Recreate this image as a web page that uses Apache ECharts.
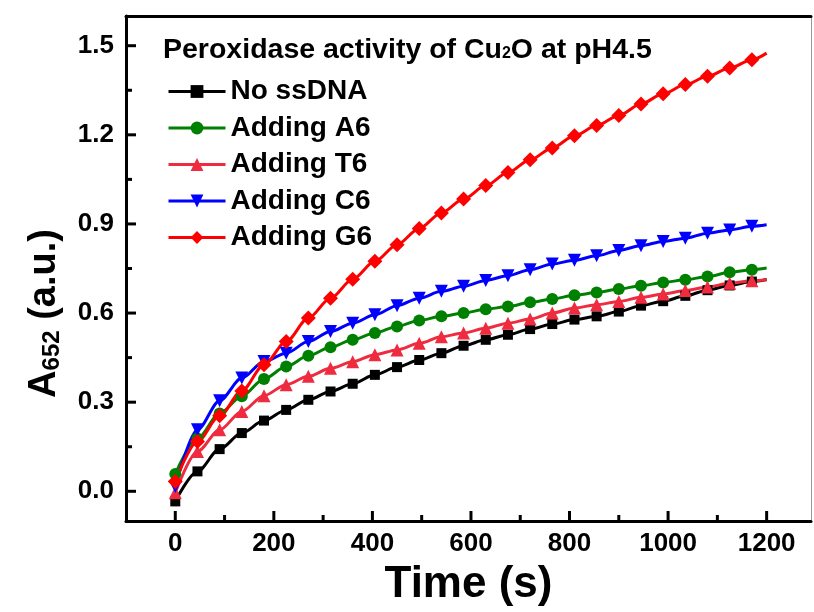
<!DOCTYPE html>
<html>
<head>
<meta charset="utf-8">
<script src="https://cdn.jsdelivr.net/npm/echarts@6/dist/echarts.min.js"></script>
<style>
  html, body { margin: 0; padding: 0; background: #fff; }
  #chart { width: 814px; height: 612px; }
</style>
</head>
<body>
<div id="chart"></div>
<script>
// time points (s); markers every 45 s, the curve runs on to 1200 s
const times = [0, 45, 90, 135, 180, 225, 270, 315, 360, 405, 450, 495, 540, 585, 630, 675, 720, 765, 810, 855, 900, 945, 990, 1035, 1080, 1125, 1170, 1200];

const noSsDNA = [-0.034, 0.067, 0.142, 0.196, 0.238, 0.274, 0.308, 0.336, 0.362, 0.392, 0.418, 0.442, 0.465, 0.490, 0.510, 0.527, 0.546, 0.563, 0.578, 0.589, 0.605, 0.625, 0.640, 0.658, 0.677, 0.693, 0.706, 0.713];
const addA6 = [0.058, 0.178, 0.262, 0.320, 0.378, 0.420, 0.456, 0.485, 0.510, 0.533, 0.555, 0.575, 0.589, 0.600, 0.613, 0.622, 0.636, 0.647, 0.660, 0.669, 0.681, 0.692, 0.703, 0.712, 0.723, 0.737, 0.746, 0.752];
const addT6 = [-0.005, 0.134, 0.207, 0.269, 0.322, 0.359, 0.387, 0.414, 0.436, 0.460, 0.476, 0.498, 0.520, 0.533, 0.549, 0.566, 0.580, 0.600, 0.617, 0.628, 0.639, 0.653, 0.664, 0.676, 0.688, 0.700, 0.709, 0.712];
const addC6 = [0.016, 0.207, 0.305, 0.381, 0.437, 0.465, 0.504, 0.538, 0.566, 0.594, 0.625, 0.650, 0.673, 0.690, 0.710, 0.726, 0.746, 0.765, 0.778, 0.793, 0.811, 0.827, 0.841, 0.852, 0.869, 0.880, 0.892, 0.897];
const addG6 = [0.033, 0.168, 0.254, 0.338, 0.426, 0.504, 0.583, 0.650, 0.714, 0.774, 0.830, 0.885, 0.937, 0.984, 1.029, 1.073, 1.116, 1.156, 1.197, 1.231, 1.265, 1.304, 1.338, 1.369, 1.397, 1.425, 1.453, 1.475];

const xTicks = [0, 200, 400, 600, 800, 1000, 1200];
const xMinorTicks = [100, 300, 500, 700, 900, 1100];
const yTicks = [0, 0.3, 0.6, 0.9, 1.2, 1.5];
const yMinorTicks = [0.15, 0.45, 0.75, 1.05, 1.35];

const FONT = 'Liberation Sans';

const xMin = -100, xMax = 1290;
const yMin = -0.1, yMax = 1.6;

function pts(vals) {
    // last point only carries the line, no marker
    return times.map((t, i) => {
        if (i === times.length - 1) {
            return { value: [t, vals[i]], symbol: 'none' };
        }
        return [t, vals[i]];
    });
}

function mkSeries(name, vals, color, symbol, size, rotate) {
    return {
        name: name,
        type: 'line',
        data: pts(vals),
        symbol: symbol,
        symbolSize: size,
        symbolRotate: rotate || 0,
        smooth: 0.3,
        smoothMonotone: 'x',
        lineStyle: { color: color, width: 3 },
        itemStyle: { color: color },
        emphasis: { disabled: true }
    };
}

// inside ticks drawn as a custom series, placed through the axes' own scales
// (axisTick.customValues would not show the major ticks here)
function tickSeries(dir, values, len) {
    const data = values.map(v => dir === 'x' ? [v, yMin] : [xMin, v]);
    return {
        type: 'custom',
        silent: true,
        clip: false,
        z: 10,
        data: data,
        renderItem: (params, api) => {
            const p = api.coord([api.value(0), api.value(1)]);
            const shape = dir === 'x'
                ? { x1: p[0], y1: p[1], x2: p[0], y2: p[1] - len }
                : { x1: p[0], y1: p[1], x2: p[0] + len, y2: p[1] };
            return { type: 'line', shape: shape, style: { stroke: '#000', lineWidth: 3 } };
        }
    };
}

const chart = echarts.init(document.getElementById('chart'));

chart.setOption({
    animation: false,
    backgroundColor: '#fff',
    title: {
        left: 158,
        top: 31,
        text: '{a|Peroxidase activity of Cu}{s|2}{a|O at pH4.5}',
        textStyle: {
            rich: {
                a: { fontFamily: FONT, fontWeight: 'bold', fontSize: 28.5, color: '#000' },
                s: { fontFamily: FONT, fontWeight: 'bold', fontSize: 16, color: '#000', padding: [7, 0, 0, 0] }
            }
        }
    },
    legend: {
        orient: 'vertical',
        left: 162,
        top: 72,
        itemWidth: 57,
        itemHeight: 16,
        itemGap: 7.5,
        lineStyle: { width: 3 },
        textStyle: { fontFamily: FONT, fontWeight: 'bold', fontSize: 28, color: '#000', lineHeight: 29 },
        data: ['No ssDNA', 'Adding A6', 'Adding T6', 'Adding C6', 'Adding G6']
    },
    grid: { left: 126, right: 3, top: 16, bottom: 90 },
    xAxis: [
        {
            type: 'value',
            position: 'bottom',
            min: xMin,
            max: xMax,
            name: 'Time (s)',
            nameLocation: 'middle',
            nameGap: 42,
            nameTextStyle: { fontFamily: FONT, fontWeight: 'bold', fontSize: 44, color: '#000' },
            axisLine: { show: true, onZero: false, lineStyle: { color: '#000', width: 3 } },
            axisTick: { show: false },
            axisLabel: {
                customValues: xTicks.slice(), margin: 10,
                fontFamily: FONT, fontWeight: 'bold', fontSize: 26, color: '#000',
                formatter: v => String(v)
            },
            splitLine: { show: false }
        },
        {
            type: 'value',
            position: 'top',
            min: xMin,
            max: xMax,
            axisLine: { show: true, onZero: false, lineStyle: { color: '#000', width: 3 } },
            axisTick: { show: false },
            axisLabel: { show: false },
            splitLine: { show: false }
        }
    ],
    yAxis: [
        {
            type: 'value',
            position: 'left',
            min: yMin,
            max: yMax,
            name: '{a|A}{s|652}{a| (a.u.)}',
            nameLocation: 'middle',
            nameGap: 62,
            nameTextStyle: {
                padding: [0, 90, 0, 0],
                rich: {
                    a: { fontFamily: FONT, fontWeight: 'bold', fontSize: 38, color: '#000' },
                    s: { fontFamily: FONT, fontWeight: 'bold', fontSize: 24, color: '#000', padding: [14, 0, 0, 0] }
                }
            },
            axisLine: { show: true, onZero: false, lineStyle: { color: '#000', width: 3 } },
            axisTick: { show: false },
            axisLabel: {
                customValues: yTicks.slice(),
                margin: 12,
                fontFamily: FONT, fontWeight: 'bold', fontSize: 26, color: '#000',
                formatter: v => v.toFixed(1)
            },
            splitLine: { show: false }
        },
        {
            type: 'value',
            position: 'right',
            min: yMin,
            max: yMax,
            axisLine: { show: true, onZero: false, lineStyle: { color: '#999', width: 1 } },
            axisTick: { show: false },
            axisLabel: { show: false },
            splitLine: { show: false }
        }
    ],
    series: [
        mkSeries('No ssDNA', noSsDNA, '#000000', 'rect', 10),
        mkSeries('Adding A6', addA6, '#008000', 'circle', 12),
        mkSeries('Adding T6', addT6, '#ee2b3f', 'triangle', 13),
        mkSeries('Adding C6', addC6, '#0000ff', 'triangle', 13, 180),
        mkSeries('Adding G6', addG6, '#ff0000', 'diamond', 15),
        tickSeries('x', xTicks, 10),
        tickSeries('x', xMinorTicks, 6),
        tickSeries('y', yTicks, 10),
        tickSeries('y', yMinorTicks, 6)
    ]
});
</script>
</body>
</html>
